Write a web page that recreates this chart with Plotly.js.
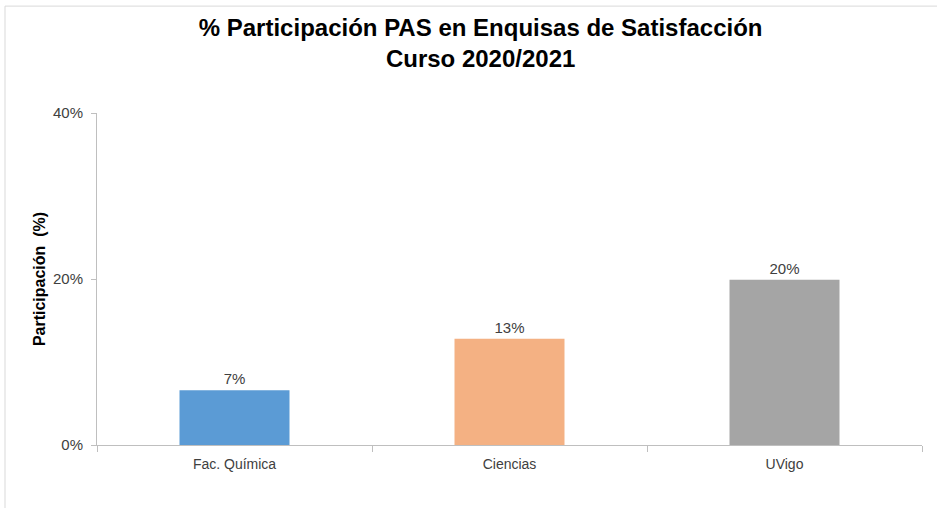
<!DOCTYPE html>
<html>
<head>
<meta charset="utf-8">
<script src="https://cdn.plot.ly/plotly-3.0.1.min.js"></script>
<style>html,body{margin:0;padding:0;background:#fff;}#chart{width:937px;height:508px;}</style>
</head>
<body>
<div id="chart"></div>
<script>
const categories = ["Fac. Química", "Ciencias", "UVigo"];
const values = [0.066, 0.128, 0.199];
const valueLabels = ["7%", "13%", "20%"];
const barColors = ["#5b9bd5", "#f4b183", "#a5a5a5"];
const yTickVals = [0, 0.2, 0.4];
const yTickText = ["0%", "20%", "40%"];

const FONT = '"Liberation Sans Narrow", "Arial Narrow", "Liberation Sans", Arial, sans-serif';

const trace = {
  type: 'bar',
  x: categories,
  y: values,
  text: valueLabels,
  textposition: 'outside',
  cliponaxis: false,
  textfont: {family: FONT, size: 15, color: '#404040'},
  marker: {color: barColors},
  hoverinfo: 'x+y'
};

const layout = {
  width: 937,
  height: 508,
  margin: {l: 97, r: 15, t: 113, b: 63},
  paper_bgcolor: '#ffffff',
  plot_bgcolor: '#ffffff',
  showlegend: false,
  bargap: 0.6,
  title: {
    text: '<b>% Participación PAS en Enquisas de Satisfacción<br>Curso 2020/2021</b>',
    font: {family: FONT, size: 24, color: '#000000'},
    x: 0.465, xref: 'paper', xanchor: 'center',
    y: 0.93, yref: 'container', yanchor: 'middle'
  },
  xaxis: {
    type: 'category',
    showline: true, linecolor: '#bfbfbf', linewidth: 1,
    ticks: 'outside', tickson: 'boundaries', ticklen: 6, tickcolor: '#bfbfbf',
    ticklabelstandoff: 6,
    showgrid: false, zeroline: false,
    tickfont: {family: FONT, size: 14, color: '#404040'}
  },
  yaxis: {
    range: [0, 0.4],
    tickvals: yTickVals, ticktext: yTickText,
    showline: true, linecolor: '#bfbfbf', linewidth: 1,
    ticks: 'outside', ticklen: 5, tickcolor: '#bfbfbf',
    ticklabelstandoff: 5,
    showgrid: false, zeroline: false,
    tickfont: {family: FONT, size: 15, color: '#404040'},
    title: {text: '<b>Participación  (%)</b>', font: {family: FONT, size: 16, color: '#000000'}, standoff: 3}
  },
  shapes: [{
    type: 'rect', xref: 'paper', yref: 'paper',
    x0: -0.1115, x1: 1.2, y0: -0.5, y1: 1.322,
    line: {color: '#d9d9d9', width: 1}, fillcolor: 'rgba(0,0,0,0)', layer: 'below'
  }]
};

Plotly.newPlot('chart', [trace], layout, {displayModeBar: false, staticPlot: true});
</script>
</body>
</html>
